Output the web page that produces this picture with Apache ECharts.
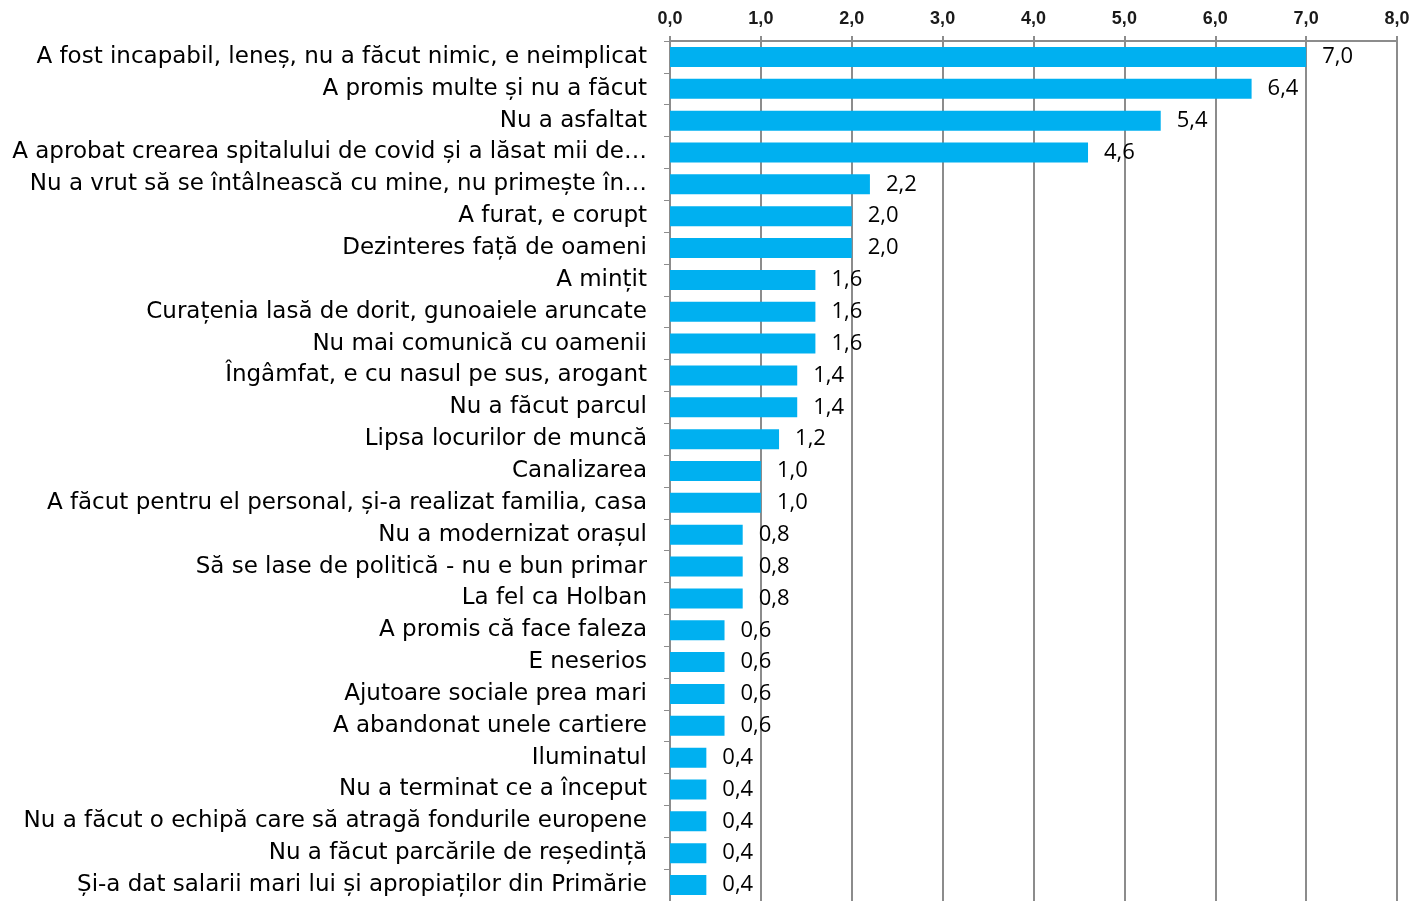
<!DOCTYPE html>
<html><head><meta charset="utf-8">
<script src="https://cdn.jsdelivr.net/npm/echarts@6/dist/echarts.min.js"></script>
<style>html,body{margin:0;padding:0;background:#fff}#c{width:1426px;height:901px}</style>
</head><body><div id="c"></div>
<script>
const categories = [
  "A fost incapabil, leneș, nu a făcut nimic, e neimplicat",
  "A promis multe și nu a făcut",
  "Nu a asfaltat",
  "A aprobat crearea spitalului de covid și a lăsat mii de…",
  "Nu a vrut să se întâlnească cu mine, nu primește în…",
  "A furat, e corupt",
  "Dezinteres față de oameni",
  "A mințit",
  "Curațenia lasă de dorit, gunoaiele aruncate",
  "Nu mai comunică cu oamenii",
  "Îngâmfat, e cu nasul pe sus, arogant",
  "Nu a făcut parcul",
  "Lipsa locurilor de muncă",
  "Canalizarea",
  "A făcut pentru el personal, și-a realizat familia, casa",
  "Nu a modernizat orașul",
  "Să se lase de politică - nu e bun primar",
  "La fel ca Holban",
  "A promis că face faleza",
  "E neserios",
  "Ajutoare sociale prea mari",
  "A abandonat unele cartiere",
  "Iluminatul",
  "Nu a terminat ce a început",
  "Nu a făcut o echipă care să atragă fondurile europene",
  "Nu a făcut parcările de reședință",
  "Și-a dat salarii mari lui și apropiaților din Primărie"
];
const values = [7.0, 6.4, 5.4, 4.6, 2.2, 2.0, 2.0, 1.6, 1.6, 1.6, 1.4, 1.4, 1.2, 1.0, 1.0, 0.8, 0.8, 0.8, 0.6, 0.6, 0.6, 0.6, 0.4, 0.4, 0.4, 0.4, 0.4];
const axisMin = 0, axisMax = 8, axisStep = 1;

const fmt = v => v.toFixed(1).replace('.', ',');
const chart = echarts.init(document.getElementById('c'));
chart.setOption({
  animation: false,
  grid: { left: 670, right: 29, top: 41, height: 861, containLabel: false },
  xAxis: {
    type: 'value', position: 'top', min: axisMin, max: axisMax, interval: axisStep,
    axisLine: { show: true, lineStyle: { color: '#8c8c8c', width: 2 } },
    axisTick: { show: true, length: 5, lineStyle: { color: '#8c8c8c', width: 2 } },
    splitLine: { show: true, lineStyle: { color: '#8c8c8c', width: 2 } },
    axisLabel: { formatter: fmt, fontFamily: '"Liberation Sans Narrow", "Liberation Sans"', fontWeight: 'bold', fontSize: 18, color: '#1a1a1a', margin: 13 }
  },
  yAxis: {
    type: 'category', inverse: true, data: categories,
    axisLine: { show: true, lineStyle: { color: '#8c8c8c', width: 2 } },
    axisTick: { show: true, length: 6, lineStyle: { color: '#8c8c8c', width: 1 } },
    axisLabel: { fontFamily: 'DejaVu Sans', fontSize: 23, color: '#000', margin: 23 }
  },
  series: [{
    type: 'bar', data: values, barWidth: 20,
    itemStyle: { color: '#00b0f0' },
    label: { show: true, position: 'right', distance: 16, formatter: p => fmt(p.value), fontFamily: 'Open Sans', fontSize: 22, color: '#000' }
  }]
});
</script></body></html>
